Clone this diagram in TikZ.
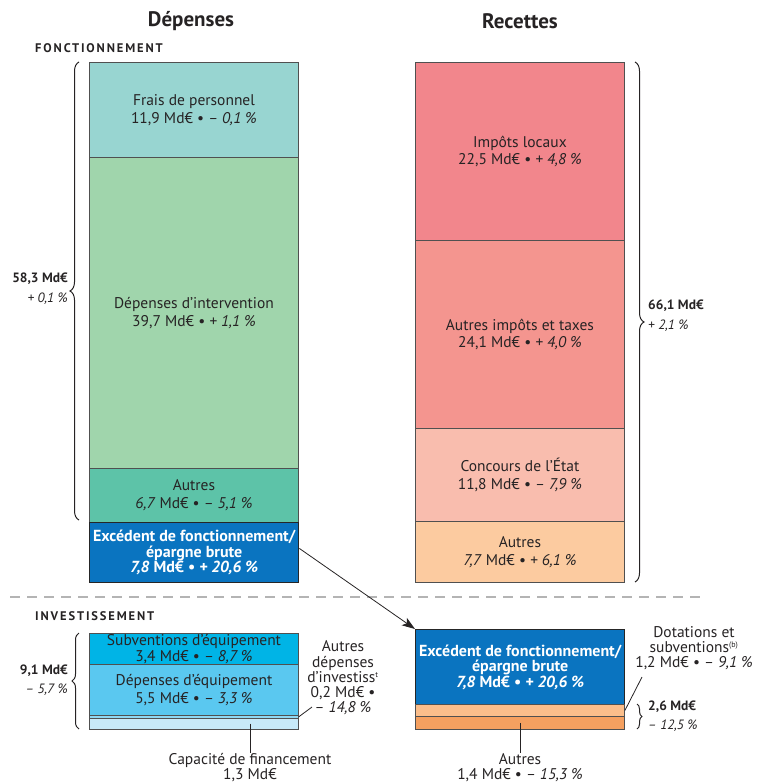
\documentclass[tikz,border=0pt]{standalone}
\usepackage{fontspec}
\setmainfont{PT Sans}
\usetikzlibrary{decorations.pathreplacing,arrows.meta}
\definecolor{txt}{HTML}{262324}
\definecolor{boxline}{HTML}{505050}
\definecolor{cfp}{HTML}{98D5D1}
\definecolor{cdi}{HTML}{A0D5AC}
\definecolor{cal}{HTML}{5DC3A8}
\definecolor{cex}{HTML}{0A74C0}
\definecolor{cil}{HTML}{F2868C}
\definecolor{cai}{HTML}{F4958F}
\definecolor{cce}{HTML}{F9BDAE}
\definecolor{car}{HTML}{FCCBA0}
\definecolor{cse}{HTML}{00B4E6}
\definecolor{cde}{HTML}{5AC8F0}
\definecolor{cad}{HTML}{8ED8F3}
\definecolor{cca}{HTML}{C7E9F8}
\definecolor{cdot}{HTML}{FBBE8B}
\definecolor{caub}{HTML}{F5A060}
\definecolor{dashc}{HTML}{B4B4B4}
\begin{document}
\begin{tikzpicture}[x=1pt,y=-1pt,
  box/.style={draw=boxline, line width=0.9pt, inner sep=0pt, anchor=north west, align=center,
    font=\fontsize{15.5}{17.5}\selectfont, text=txt},
  lw/.style={minimum width=209pt},
  exbox/.style={box, draw=black!85, line width=1.4pt, fill=cex, text=white,
    font=\fontsize{16}{15.5}\selectfont\bfseries},
  lbl/.style={align=center, inner sep=0pt, text=txt, font=\fontsize{15.5}{15.2}\selectfont},
  tot/.style={inner sep=0pt, text=txt, font=\fontsize{13.5}{20}\selectfont},
  head/.style={inner sep=0pt, text=txt, font=\fontsize{21}{24}\selectfont\bfseries},
  sect/.style={inner sep=0pt, anchor=west, text=txt, font=\fontsize{12.5}{14}\selectfont\bfseries\addfontfeatures{LetterSpace=15}},
  leader/.style={draw=txt, line width=0.8pt},
  brc/.style={draw=txt, line width=1pt, decorate},
]
\useasboundingbox (0,0) rectangle (761,784);

% headings
\node[head] (hd) at (191,21) {Dépenses};
\node[head] (hr) at (520,21) {Recettes};
\node[sect] (sf) at (35,48) {FONCTIONNEMENT};
\node[sect] (si) at (35,616) {INVESTISSEMENT};

% left column, fonctionnement
\node[box, lw, fill=cfp, minimum height=95pt] (fp) at (89,62) {Frais de personnel\\11,9 Md€ • \textit{– 0,1 \%}};
\node[box, lw, fill=cdi, minimum height=311pt] (di) at (89,157) {Dépenses d’intervention\\39,7 Md€ • \textit{+ 1,1 \%}};
\node[box, lw, fill=cal, minimum height=53.5pt] (al) at (89,468) {Autres\\\textit{6,7} Md€ • \textit{– 5,1 \%}};
\node[exbox, lw, minimum height=60.5pt] (exl) at (89,521.5) {Excédent de fonctionnement/\\épargne brute\\\textit{7,8} Md€ • \textit{+ 20,6 \%}};

% right column, fonctionnement
\node[box, lw, fill=cil, minimum height=178pt] (il) at (415,62) {Impôts locaux\\22,5 Md€ • \textit{+ 4,8 \%}};
\node[box, lw, fill=cai, minimum height=188pt] (ai) at (415,240) {Autres impôts et taxes\\24,1 Md€ • \textit{+ 4,0 \%}};
\node[box, lw, fill=cce, minimum height=93pt] (ce) at (415,428) {Concours de l’État\\11,8 Md€ • \textit{– 7,9 \%}};
\node[box, lw, fill=car, minimum height=61pt] (ar) at (415,521) {Autres\\\textit{7,7} Md€ • \textit{+ 6,1 \%}};

% braces fonctionnement
\draw[brc, decoration={brace, amplitude=9pt}] (79,520) -- (79,62);
\node[tot, anchor=east, align=right] (ftl) at (68,289) {\textbf{58,3 Md€}\\\textit{+ 0,1 \%}};
\draw[brc, decoration={brace, amplitude=9pt}] (635,62) -- (635,582);
\node[tot, anchor=west, align=left] (ftr) at (648,316) {\textbf{66,1 Md€}\\\textit{+ 2,1 \%}};

% dashed separator
\coordinate (d1) at (10,597);
\coordinate (d2) at (700,597);
\draw[dashc, line width=1.6pt, dash pattern=on 10pt off 7pt] (d1) -- (d2);

% investissement left
\node[box, lw, fill=cse, minimum height=31pt, font=\fontsize{15.5}{16}\selectfont] (se) at (89,633) {Subventions d’équipement\\3,4 Md€ • \textit{– 8,7 \%}};
\node[box, lw, fill=cde, minimum height=51pt] (de) at (89,664) {Dépenses d’équipement\\5,5 Md€ • \textit{– 3,3 \%}};
\node[box, lw, fill=cad, minimum height=2.5pt] (ad) at (89,715) {};
\node[box, lw, fill=cca, minimum height=11.5pt] (ca) at (89,717.5) {};
\draw[brc, decoration={brace, amplitude=7pt}] (79,729) -- (79,633);
\node[tot, anchor=east, align=right, font=\fontsize{13.5}{19}\selectfont] (itl) at (68,680.5) {\textbf{9,1 Md€}\\\textit{– 5,7 \%}};

\node[lbl] (adlbl) at (343,678) {Autres\\dépenses\\d’investiss\textsuperscript{\fontsize{8}{8}\selectfont t}\\0,2 Md€ •\\\textit{– 14,8 \%}};
\coordinate (adl) at (312,707);
\draw[leader] (adl) -- (ad.east);

\node[lbl] (calbl) at (250,767.5) {Capacité de financement\\1,3 Md€};
\draw[leader] (calbl.north |- ca.center) -- (calbl.north);

% investissement right
\node[exbox, lw, minimum height=75pt] (exr) at (415,629) {Excédent de fonctionnement/\\épargne brute\\\textit{7,8} Md€ • \textit{+ 20,6 \%}};
\node[box, lw, fill=cdot, minimum height=12pt] (dot) at (415,704) {};
\node[box, lw, fill=caub, minimum height=13pt] (aub) at (415,716) {};
\draw[brc, decoration={brace, amplitude=5pt}] (637,704) -- (637,729);
\node[tot, anchor=west, align=left, font=\fontsize{13.5}{19}\selectfont] (itr) at (648,716.5) {\textbf{2,6 Md€}\\\textit{– 12,5 \%}};

\node[lbl] (dotlbl) at (694,648) {Dotations et\\subventions\textsuperscript{\fontsize{8}{8}\selectfont (b)}\\1,2 Md€ • \textit{– 9,1 \%}};
\coordinate (dotl) at (642,677);
\draw[leader] (dotl) -- (dot.east);

\node[lbl] (aublbl) at (520,767.5) {Autres\\1,4 Md€ • \textit{– 15,3 \%}};
\draw[leader] (aublbl.north |- aub.center) -- (aublbl.north);

% arrow
\draw[draw=txt, line width=0.8pt, -{Stealth[length=13pt,width=9pt,inset=3pt]}] ([yshift=4pt]exl.east) -- (exr.north west);
\end{tikzpicture}
\end{document}
